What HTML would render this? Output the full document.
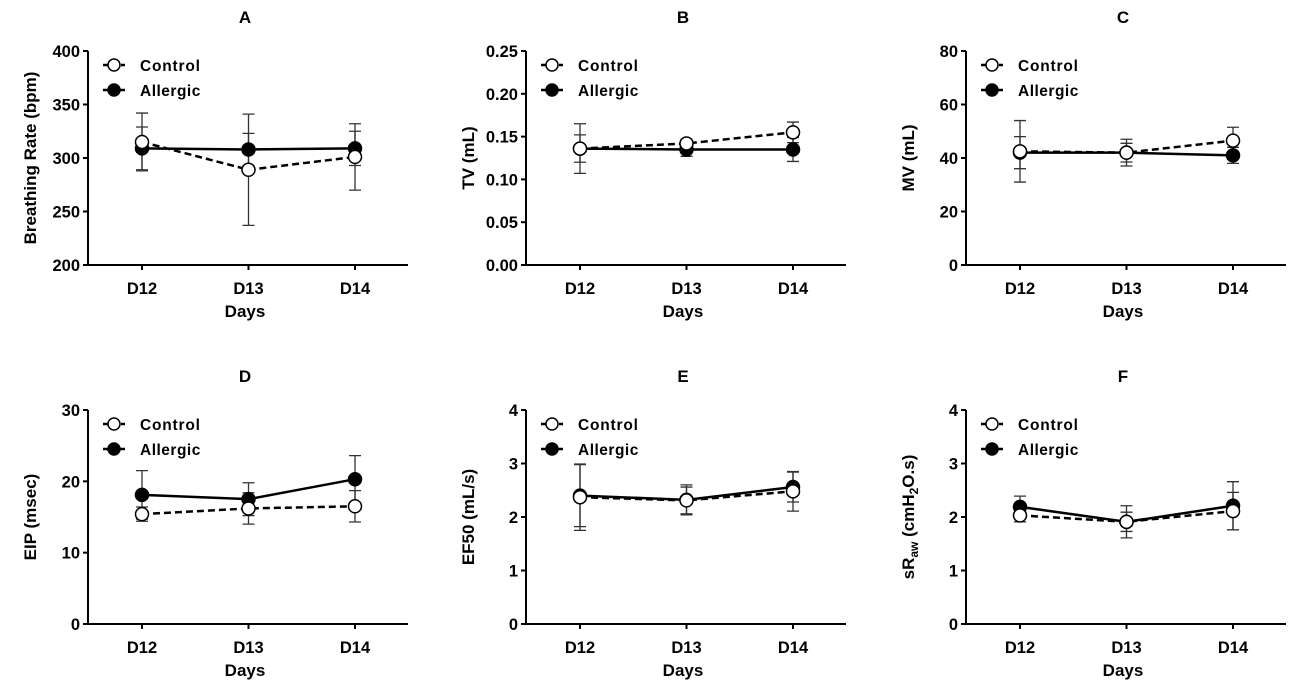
<!DOCTYPE html>
<html><head><meta charset="utf-8"><style>
body{margin:0;background:#fff;}
svg text{font-family:"Liberation Sans",Arial,sans-serif;font-weight:bold;fill:#000;}
</style></head><body>
<svg id="chart" width="1300" height="689" xmlns="http://www.w3.org/2000/svg"></svg>
<script>
const categories=["D12","D13","D14"];
const panelLetters=["A","B","C","D","E","F"];
const yTitles=["Breathing Rate (bpm)","TV (mL)","MV (mL)","EIP (msec)","EF50 (mL/s)","sRaw"];
const yMins=[200,0,0,0,0,0];
const yMaxs=[400,0.25,80,30,4,4];
const yStepsArr=[50,0.05,20,10,1,1];
const yDecimals=[0,2,0,0,0,0];
const controlA=[315,289,301], controlAErr=[27,52,31];
const allergicA=[309,308,309], allergicAErr=[20,15,16];
const controlB=[0.136,0.142,0.155], controlBErr=[0.029,0.005,0.012];
const allergicB=[0.136,0.135,0.135], allergicBErr=[0.016,0.008,0.014];
const controlC=[42.5,42,46.5], controlCErr=[11.5,5,5];
const allergicC=[42,42,41], allergicCErr=[6,3.5,3];
const controlD=[15.4,16.2,16.5], controlDErr=[1,2.2,2.2];
const allergicD=[18.1,17.5,20.3], allergicDErr=[3.4,2.3,3.3];
const controlE=[2.37,2.31,2.48], controlEErr=[0.62,0.25,0.37];
const allergicE=[2.40,2.32,2.56], allergicEErr=[0.58,0.28,0.28];
const controlF=[2.03,1.91,2.11], controlFErr=[0.12,0.3,0.35];
const allergicF=[2.19,1.91,2.21], allergicFErr=[0.2,0.18,0.45];
const controls=[controlA,controlB,controlC,controlD,controlE,controlF];
const controlErrs=[controlAErr,controlBErr,controlCErr,controlDErr,controlEErr,controlFErr];
const allergics=[allergicA,allergicB,allergicC,allergicD,allergicE,allergicF];
const allergicErrs=[allergicAErr,allergicBErr,allergicCErr,allergicDErr,allergicEErr,allergicFErr];

const NS="http://www.w3.org/2000/svg";
const svg=document.getElementById('chart');
function mk(tag,attrs,parent,txt){const e=document.createElementNS(NS,tag);for(const k in attrs)e.setAttribute(k,attrs[k]);if(txt!==undefined)e.textContent=txt;parent.appendChild(e);return e;}
const axX=[88,526,966], axTop=[51,410], axH=214;
for(let p=0;p<6;p++){
  const ox=axX[p%3], top=axTop[Math.floor(p/3)], bot=top+axH;
  const g=mk('g',{},svg);
  
  
  const ymin=yMins[p], ymax=yMaxs[p];
  const ys=v=>bot-(v-ymin)/(ymax-ymin)*axH;
  const xs=i=>ox+54+i*106.5;
  const t=mk('text',{x:ox+157,y:top-28,'text-anchor':'middle','font-size':17},g,panelLetters[p]);
  
  
  const ya=mk('line',{x1:ox,y1:top,x2:ox,y2:bot+1,stroke:'#000','stroke-width':2},g);
  
  
  const xa=mk('line',{x1:ox-1,y1:bot,x2:ox+320,y2:bot,stroke:'#000','stroke-width':2},g);
  
  
  const n=Math.round((ymax-ymin)/yStepsArr[p]);
  for(let k=0;k<=n;k++){
    const v=ymin+k*yStepsArr[p], y=ys(v);
    mk('line',{x1:ox-5,y1:y,x2:ox,y2:y,stroke:'#000','stroke-width':2},g);
    const tl=mk('text',{x:ox-8,y:y+6,'text-anchor':'end','font-size':16.5},g,v.toFixed(yDecimals[p]));
    
    
  }
  categories.forEach((c,i)=>{
    mk('line',{x1:xs(i),y1:bot,x2:xs(i),y2:bot+5,stroke:'#000','stroke-width':2},g);
    const tl=mk('text',{x:xs(i),y:bot+29,'text-anchor':'middle','font-size':16.5},g,c);
    
    
  });
  const xt=mk('text',{x:ox+157,y:bot+52,'text-anchor':'middle','font-size':17},g,'Days');
  
  
  const cy=(top+bot)/2;
  const yt=mk('text',{x:0,y:0,'text-anchor':'middle','font-size':17,transform:`translate(${ox-52},${cy}) rotate(-90)`},g);
  
  
  if(p===5){
    yt.textContent='';
    mk('tspan',{},yt,'sR');
    mk('tspan',{'font-size':12,dy:4},yt,'aw');
    mk('tspan',{dy:-4},yt,' (cmH');
    mk('tspan',{'font-size':12,dy:4},yt,'2');
    mk('tspan',{dy:-4},yt,'O.s)');
  } else yt.textContent=yTitles[p];
  const series=[[allergics[p],allergicErrs[p],'#000','','allergic'],[controls[p],controlErrs[p],'#fff','7,4','control']];
  series.forEach(s=>{
    const [vals,errs,fill,dash,nm]=s;
    vals.forEach((v,i)=>{
      const x=xs(i);
      const eb=mk('path',{d:`M${x},${ys(v-errs[i])}V${ys(v+errs[i])}M${x-6},${ys(v-errs[i])}H${x+6}M${x-6},${ys(v+errs[i])}H${x+6}`,stroke:'#333','stroke-width':1.3,fill:'none'},g);
      
      
    });
    const pts=vals.map((v,i)=>xs(i)+','+ys(v)).join(' ');
    const ln=mk('polyline',{points:pts,fill:'none',stroke:'#000','stroke-width':2.5,'stroke-dasharray':dash},g);
    
    
  });
  series.forEach(s=>{
    const [vals,errs,fill,dash,nm]=s;
    vals.forEach((v,i)=>{
      const c=mk('circle',{cx:xs(i),cy:ys(v),r:6.5,fill:fill,stroke:'#000','stroke-width':1.5},g);
      
      
    });
  });
  const lg=mk('g',{},g);
  
  
  const ly1=top+14, ly2=top+39;
  mk('line',{x1:ox+15,y1:ly1,x2:ox+37,y2:ly1,stroke:'#000','stroke-width':2.5,'stroke-dasharray':'5,4'},lg);
  mk('circle',{cx:ox+26,cy:ly1,r:6,fill:'#fff',stroke:'#000','stroke-width':1.5},lg);
  const l1=mk('text',{x:ox+52,y:ly1+6,'font-size':15.5,'letter-spacing':'0.8'},lg,'Control');
  
  
  mk('line',{x1:ox+15,y1:ly2,x2:ox+37,y2:ly2,stroke:'#000','stroke-width':2.5},lg);
  mk('circle',{cx:ox+26,cy:ly2,r:6,fill:'#000',stroke:'#000','stroke-width':1.5},lg);
  const l2=mk('text',{x:ox+52,y:ly2+6,'font-size':15.5,'letter-spacing':'0.5'},lg,'Allergic');
  
  
}
</script>
</body></html>
